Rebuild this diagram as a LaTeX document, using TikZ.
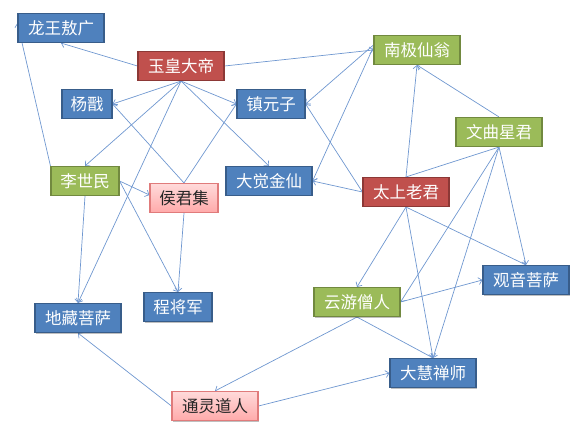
\documentclass[tikz,border=0pt]{standalone}
\usepackage{fontspec}
\newfontfamily\cjk{Noto Sans CJK SC}
\usetikzlibrary{arrows.meta,backgrounds,shadows}
\definecolor{bluefill}{HTML}{4F81BD}
\definecolor{blueline}{HTML}{385D8A}
\definecolor{redfill}{HTML}{C0504D}
\definecolor{redline}{HTML}{8C3836}
\definecolor{greenfill}{HTML}{9BBB59}
\definecolor{greenline}{HTML}{71893F}
\definecolor{pinktop}{HTML}{FFDADA}
\definecolor{pinkbot}{HTML}{FFAAAA}
\definecolor{pinkline}{HTML}{E07B7B}
\definecolor{edgecol}{HTML}{6F97D0}
\tikzset{
  box/.style={draw, line width=1.1pt, minimum height=29pt, inner sep=0pt,
    font=\cjk\fontsize{16.5}{18}\selectfont, text=white,
    drop shadow={shadow xshift=1pt, shadow yshift=-1pt, opacity=0.25, fill=black}},
  w4/.style={minimum width=86pt},
  w3/.style={minimum width=68pt},
  w2/.style={minimum width=50pt},
  bluebox/.style={box, fill=bluefill, draw=blueline},
  redbox/.style={box, fill=redfill, draw=redline},
  greenbox/.style={box, fill=greenfill, draw=greenline},
  pinkbox/.style={box, top color=pinktop, bottom color=pinkbot, draw=pinkline, text=black!85},
  link/.style={draw=edgecol, line width=0.7pt, -{Straight Barb[length=3.5pt,width=7pt]}},
  plain/.style={draw=edgecol, line width=0.7pt}
}
\begin{document}
\begin{tikzpicture}[x=1pt,y=-1pt]
\useasboundingbox (0,0) rectangle (580,435);
\node[bluebox,w4] (lw) at (61,28) {龙王敖广};
\node[redbox,w4] (yd) at (181,66) {玉皇大帝};
\node[bluebox,w2] (yj) at (87,104) {杨戬};
\node[bluebox,w3] (zy) at (271,104) {镇元子};
\node[greenbox,w4] (nj) at (417,50) {南极仙翁};
\node[greenbox,w4] (wq) at (499,132) {文曲星君};
\node[redbox,w4] (tsl) at (406,192) {太上老君};
\node[bluebox,w4] (djj) at (269,181) {大觉金仙};
\node[greenbox,w3] (lsm) at (85,181) {李世民};
\node[pinkbox,w3] (hjj) at (184,198) {侯君集};
\node[bluebox,w3] (cjj) at (178,307) {程将军};
\node[bluebox,w4] (dz) at (78,318) {地藏菩萨};
\node[pinkbox,w4] (tl) at (215,406) {通灵道人};
\node[greenbox,w4] (yy) at (357,302) {云游僧人};
\node[bluebox,w4] (gy) at (526,280) {观音菩萨};
\node[bluebox,w4] (dh) at (433,373) {大慧禅师};
\begin{scope}[on background layer]
\draw[link] (yd.west) -- (lw.south);
\draw[link] (lsm.north west) -- ([yshift=5pt]lw.west);
\draw[link] (yd.east) -- (nj.west);
\draw[link] (yd.south) -- (yj.east);
\draw[link] (yd.south) -- (zy.west);
\draw[link] (yd.south) -- (lsm.north);
\draw[link] (yd.south) -- (djj.north);
\draw[link] (yd.south) -- (dz.north);
\draw[link] (lsm.east) -- ([yshift=3pt]hjj.west);
\draw[link] (lsm.east) -- (cjj.north);
\draw[link] (lsm.south) -- (dz.north);
\draw[link] (hjj.north) -- (yj.east);
\draw[link] (hjj.north) -- (zy.west);
\draw[link] (hjj.south) -- (cjj.north);
\draw[link] ([yshift=5pt]nj.west) -- (zy.east);
\draw[link] ([yshift=3pt]nj.west) -- (djj.east);
\draw[link] (tsl.west) -- (djj.east);
\draw[link] (tsl.west) -- (zy.east);
\draw[link] (tsl.north) -- (nj.south);
\draw[link] (wq.north) -- (nj.south);
\draw[plain] (tsl.north) -- (wq.south);
\draw[link] (wq.south) -- (yy.east);
\draw[link] (wq.south) -- (dh.north);
\draw[link] (wq.south) -- (gy.north);
\draw[link] (tsl.south) -- (yy.north);
\draw[link] (tsl.south) -- (dh.north);
\draw[link] (tsl.south) -- (gy.north);
\draw[link] (yy.east) -- (gy.west);
\draw[link] (yy.south) -- (dh.north);
\draw[link] (yy.south) -- (tl.north);
\draw[link] (tl.east) -- (dh.west);
\draw[link] (tl.west) -- (dz.south);
\end{scope}
\end{tikzpicture}
\end{document}
